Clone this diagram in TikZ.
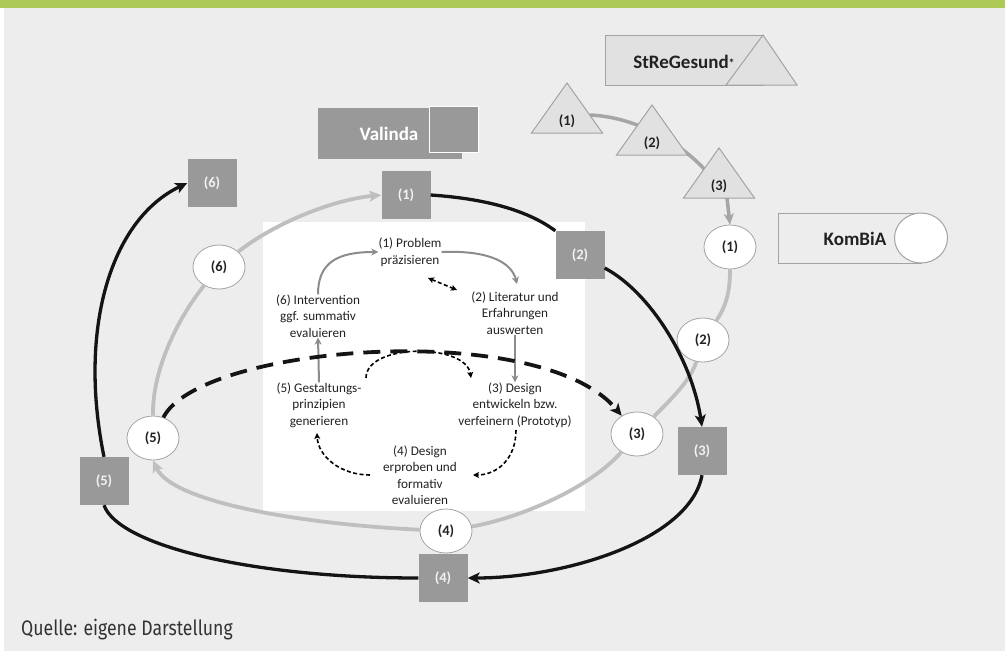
\documentclass[tikz,border=0pt]{standalone}
\usepackage{fontspec}
\setmainfont{Carlito}
\newfontfamily\firafont{Fira Sans}
\usetikzlibrary{shapes.geometric,arrows.meta}
\definecolor{bgc}{HTML}{EDEDED}
\definecolor{topbar}{HTML}{ADCA56}
\definecolor{sqc}{HTML}{999999}
\definecolor{trifill}{HTML}{E1E1E1}
\definecolor{tristroke}{HTML}{A3A3A3}
\definecolor{loopc}{HTML}{BFBFBF}
\definecolor{triarrow}{HTML}{A6A6A6}
\definecolor{innerarrow}{HTML}{8C8C8C}
\definecolor{txt}{HTML}{222222}
\definecolor{sqtxt}{HTML}{F2F2F2}
\tikzset{
  sqnode/.style={rectangle, fill=sqc, minimum width=49pt, minimum height=48pt, inner sep=0pt,
    text=sqtxt, font=\fontsize{14.5}{16}\selectfont\bfseries},
  elnode/.style={ellipse, draw=tristroke, line width=0.8pt, fill=white, minimum width=52pt,
    minimum height=44pt, inner sep=0pt, text=txt, font=\fontsize{14.5}{16}\selectfont\bfseries},
  trinode/.style={text=txt, font=\fontsize{14.5}{16}\selectfont\bfseries, inner sep=0pt},
  trishape/.style={draw=tristroke, line width=1pt, fill=trifill},
  innertext/.style={align=center, text=txt, inner sep=0pt, font=\fontsize{13.2}{16.5}\selectfont},
  blackline/.style={line width=3.3pt, draw=black!92},
  blackarrow/.style={blackline, -{Stealth[length=12pt,width=11pt,inset=3pt]}},
  grayloop/.style={line width=3.8pt, draw=loopc},
  grayarrow/.style={grayloop, -{Stealth[length=12pt,width=11pt,inset=3pt]}},
  triline/.style={line width=3.5pt, draw=triarrow},
  triarrowstyle/.style={triline, -{Stealth[length=11pt,width=10pt,inset=3pt]}},
  outerdash/.style={line width=3.8pt, draw=black!92, dash pattern=on 17pt off 10pt,
    -{Stealth[length=12pt,width=11pt,inset=3pt]}},
  innergray/.style={line width=2pt, draw=innerarrow, -{Stealth[length=7pt,width=7pt,inset=2pt]}},
  innerdash/.style={line width=1.6pt, draw=black, dash pattern=on 4pt off 2.5pt,
    -{Stealth[length=6pt,width=6pt,inset=1.5pt]}},
  innerdashboth/.style={line width=1.6pt, draw=black, dash pattern=on 4pt off 2.5pt,
    {Stealth[length=6pt,width=6pt,inset=1.5pt]}-{Stealth[length=6pt,width=6pt,inset=1.5pt]}},
  labelbig/.style={inner sep=0pt, font=\fontsize{19}{22}\selectfont\bfseries}
}
\begin{document}
\begin{tikzpicture}[x=1pt,y=-1pt]
\path[use as bounding box] (0,0) rectangle (1005,651);
\fill[bgc] (0,0) rectangle (1005,651);
\fill[white] (0,0) rectangle (4,651);
\fill[topbar] (0,0) rectangle (1005,7.5);

% central white panel
\fill[white] (263,222) rectangle (585,511);

% inner texts
\node[innertext] (n1) at (410,252) {(1) Problem\\präzisieren};
\node[innertext] (n2) at (515,313) {(2) Literatur und\\Erfahrungen\\auswerten};
\node[innertext] (n6) at (318,316) {(6) Intervention\\ggf. summativ\\evaluieren};
\node[innertext] (n5) at (319,405) {(5) Gestaltungs-\\prinzipien\\generieren};
\node[innertext] (n3) at (515,405) {(3) Design\\entwickeln bzw.\\verfeinern (Prototyp)};
\node[innertext] (n4) at (420,475) {(4) Design\\erproben und\\formativ\\evaluieren};

% inner arrows
\draw[innergray] (n1.east) .. controls (492,250) and (512,264) .. (517,284);
\draw[innergray] (n6.north) .. controls (318,262) and (338,252) .. (n1.west);
\draw[innerdashboth] (428,278) -- (457,290);
\draw[innergray] (n2.south) -- (n3.north);
\draw[innergray] (n5.north) -- (n6.south);
\draw[innerdash] (366,378) .. controls (366,343) and (466,343) .. (471,378);
\draw[innerdash] (516,430) .. controls (516,460) and (496,475) .. (473,475);
\draw[innerdash] (370,475) .. controls (340,475) and (318,456) .. (317,433);

% StReGesund legend
\draw[trishape] (605,35) rectangle (763,85);
\draw[trishape] (726,85) -- (763,35) -- (797,85) -- cycle;
\node[labelbig, text=txt] (streg) at (684,62) {StReGesund{\fontsize{12}{12}\selectfont\raisebox{1pt}{*}}};

% Valinda legend
\fill[sqc] (318,108) rectangle (462,159);
\draw[fill=sqc, draw=white, line width=1pt] (429,106) rectangle (478,152);
\node[labelbig, text=white] (valinda) at (389,134) {Valinda};

% KomBiA legend
\draw[draw=tristroke, line width=1pt] (778,213) rectangle (921,263);
\node[ellipse, draw=tristroke, line width=1pt, fill=white, minimum width=53pt, minimum height=50pt] (kombicirc) at (921,238) {};
\node[labelbig, text=txt] (kombia) at (855,239) {KomBiA};

% ellipse nodes (KomBiA)
\node[elnode] (E1) at (730,247) {(1)};
\node[elnode] (E2) at (703,340) {(2)};
\node[elnode] (E3) at (637,434) {(3)};
\node[elnode] (E4) at (446,531) {(4)};
\node[elnode] (E5) at (153,438) {(5)};
\node[elnode] (E6) at (219,267) {(6)};

% square nodes (Valinda)
\node[sqnode] (S1) at (406,195) {(1)};
\node[sqnode] (S2) at (580,255) {(2)};
\node[sqnode] (S3) at (702,451) {(3)};
\node[sqnode] (S4) at (443,578) {(4)};
\node[sqnode] (S5) at (104,481) {(5)};
\node[sqnode] (S6) at (212,183) {(6)};

% triangle text nodes (StReGesund)
\node[trinode] (T1) at (567,121) {\phantom{(1)}};
\node[trinode] (T2) at (652,143) {\phantom{(2)}};
\node[trinode] (T3) at (719,186) {\phantom{(3)}};

% light gray loop
\draw[grayloop] (E1.south) .. controls (730,290) and (727,305) .. (E2);
\draw[grayloop] (E2) .. controls (690,382) and (668,402) .. (E3);
\draw[grayloop] (E3) .. controls (590,488) and (520,518) .. (E4);
\draw[grayarrow] (E4) .. controls (300,524) and (172,502) .. (E5.south);
\draw[grayloop] (E5.north) .. controls (152,370) and (178,318) .. (E6);
\draw[grayarrow] (E6) .. controls (272,225) and (330,200) .. (S1.west);

% black loop
\draw[blackline] (S1.east) .. controls (490,199) and (530,212) .. (S2.north west);
\draw[blackarrow] (S2) .. controls (650,292) and (692,360) .. (S3.north);
\draw[blackarrow] (S3.south) .. controls (690,540) and (565,578) .. (S4.east);
\draw[blackline] (S4.west) .. controls (250,578) and (118,545) .. (S5.south);
\draw[blackarrow] (S5.north) .. controls (78,330) and (110,220) .. (S6.west);

% dashed black
\draw[outerdash] (E5) .. controls (200,345) and (540,318) .. (E3);

% triangle path (StReGesund)
\draw[triline] ([shift={(23,-6)}]T1.center) .. controls (640,117) and (700,150) .. ([shift={(6,12)}]T3.center);
\draw[triarrowstyle] ([shift={(8,12)}]T3.center) -- (E1.north);
\draw[trishape] (531.5,133) -- (567,83) -- (602.5,133) -- cycle;
\draw[trishape] (616.5,155) -- (652,105) -- (687.5,155) -- cycle;
\draw[trishape] (683.5,198) -- (719,148) -- (754.5,198) -- cycle;
\node[trinode] at (T1) {(1)};
\node[trinode] at (T2) {(2)};
\node[trinode] at (T3) {(3)};

% source
\node[anchor=base west, inner sep=0pt, text=black!80] (quelle) at (21,635)
  {\scalebox{0.84}[1]{\firafont\fontsize{21}{24}\selectfont Quelle: eigene Darstellung}};
\end{tikzpicture}
\end{document}
